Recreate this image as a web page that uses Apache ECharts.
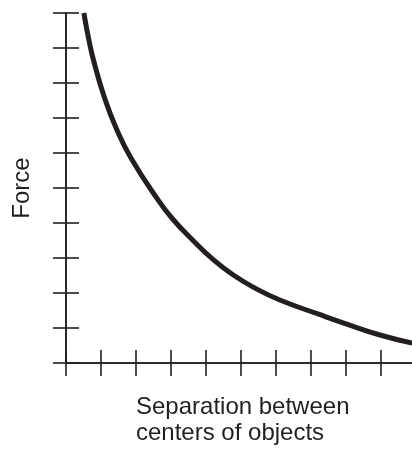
<!DOCTYPE html>
<html>
<head>
<meta charset="utf-8">
<script src="https://cdn.jsdelivr.net/npm/echarts@6/dist/echarts.min.js"></script>
<style>html,body{margin:0;padding:0;background:#fff}#c{width:412px;height:449px}</style>
</head>
<body>
<div id="c"></div>
<script>
// Data (arbitrary units: one tick = 1 unit)
var separation = [0.51, 0.65, 0.8, 1.11, 1.45, 1.86, 2.63, 3.06, 3.63, 4.2, 4.77, 5.4, 6.11, 7.26, 8.0, 8.97, 9.89];
var force      = [10, 9.25, 8.6, 7.55, 6.67, 5.85, 4.66, 4.1, 3.5, 2.96, 2.52, 2.14, 1.8, 1.38, 1.12, 0.8, 0.57];
var xTicks = [0, 1, 2, 3, 4, 5, 6, 7, 8, 9];
var yTicks = [0, 1, 2, 3, 4, 5, 6, 7, 8, 9, 10];
var xTitle = ['Separation between', 'centers of objects'];
var yTitle = 'Force';

var ink = '#231f20';
var chart = echarts.init(document.getElementById('c'), null, {renderer: 'canvas'});
var pts = separation.map(function (s, i) { return [s, force[i]]; });

function xAx(inside) {
  return {
    type: 'value', min: 0, max: 346 / 35, position: 'bottom',
    axisLine: {show: true, onZero: false, lineStyle: {color: ink, width: 1.6}},
    axisTick: {show: true, inside: inside, length: 13, customValues: xTicks, lineStyle: {color: ink, width: 1.6}},
    axisLabel: {show: false}, splitLine: {show: false}
  };
}
function yAx(inside) {
  return {
    type: 'value', min: 0, max: 10, interval: 1, position: 'left',
    axisLine: {show: true, onZero: false, lineStyle: {color: ink, width: 1.6}},
    axisTick: {show: true, inside: inside, length: 13, customValues: yTicks, lineStyle: {color: ink, width: 1.6}},
    axisLabel: {show: false}, splitLine: {show: false}
  };
}

chart.setOption({
  animation: false,
  backgroundColor: '#fff',
  grid: {left: 66, top: 13, width: 346, height: 350, containLabel: false},
  xAxis: [xAx(false), xAx(true)],
  yAxis: [yAx(false), yAx(true)],
  series: [{
    type: 'line', data: pts, smooth: 0.5, showSymbol: false,
    lineStyle: {color: ink, width: 5}, clip: true
  }],
  graphic: [
    {type: 'text', left: 136, top: 394,
     style: {text: xTitle.join('\n'), font: '24px "Liberation Sans", Arial, sans-serif', lineHeight: 26, fill: ink, textAlign: 'left'}},
    {type: 'text', x: 22, y: 188, rotation: Math.PI / 2,
     style: {text: yTitle, font: '24px "Liberation Sans", Arial, sans-serif', fill: ink, textAlign: 'center', textVerticalAlign: 'middle'}}
  ]
});
</script>
</body>
</html>
